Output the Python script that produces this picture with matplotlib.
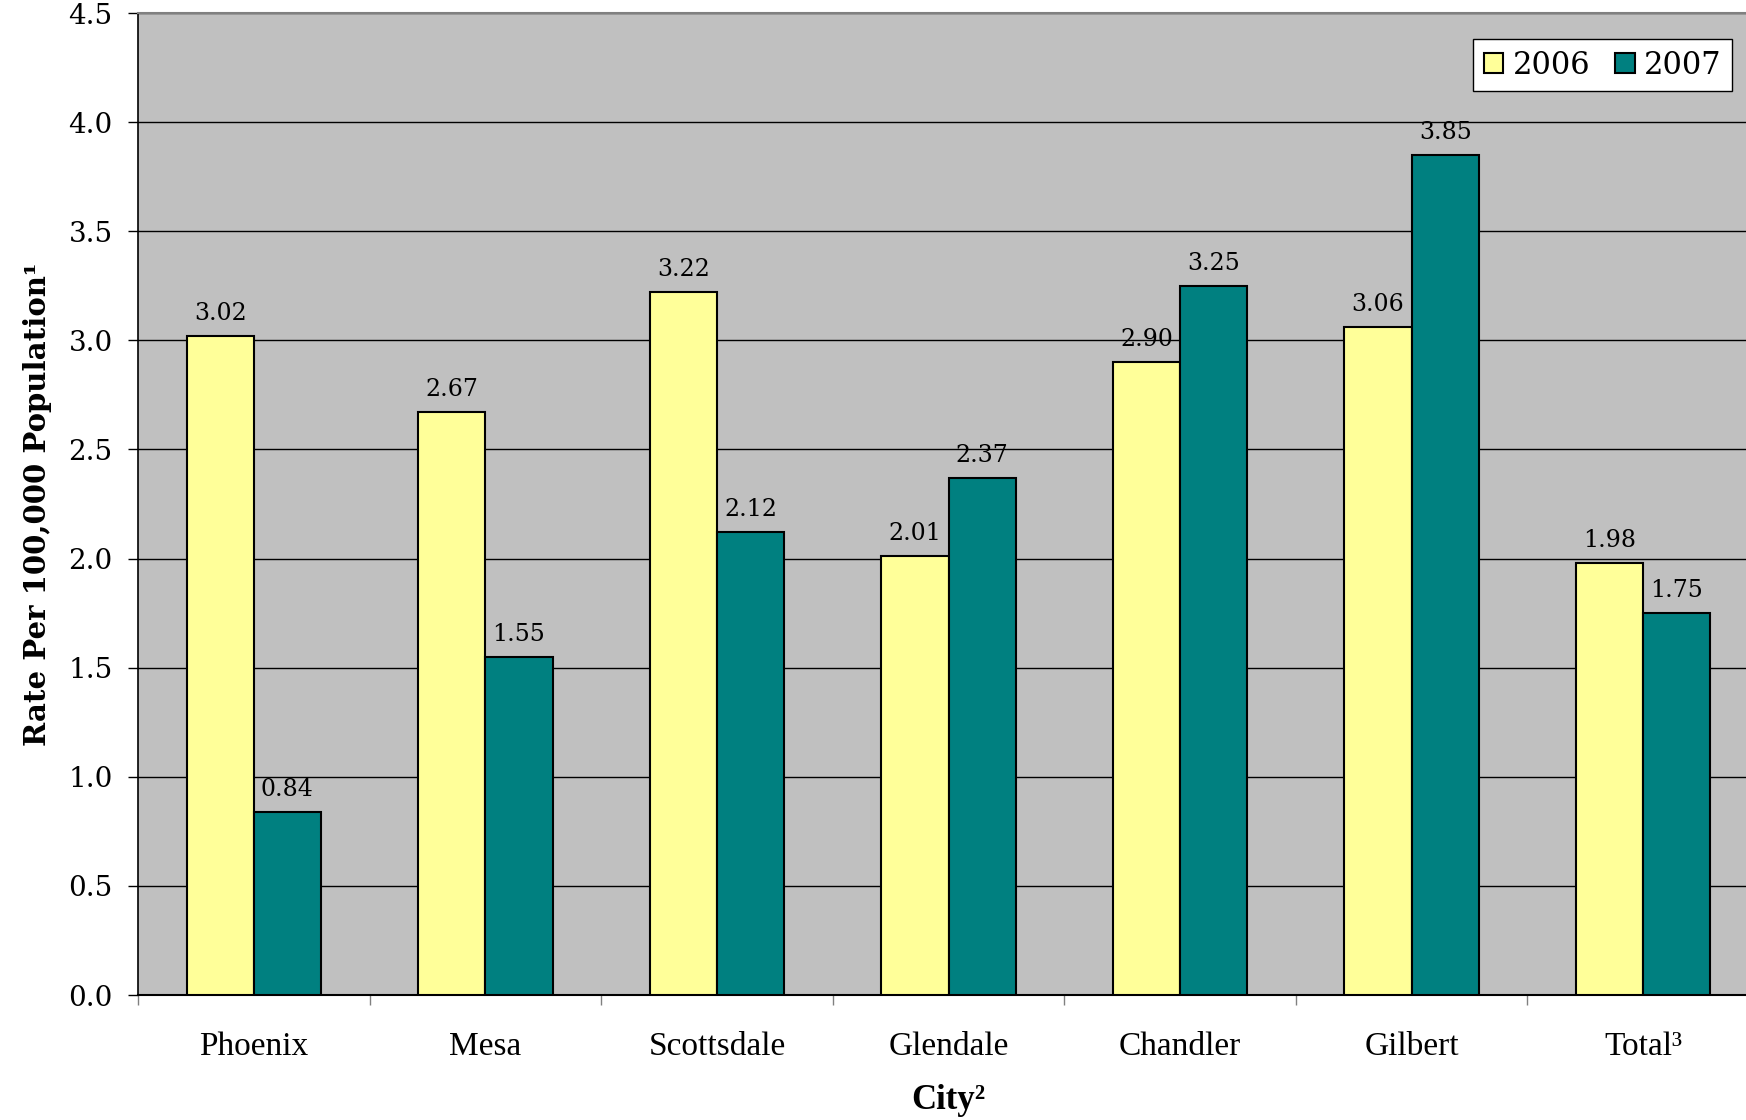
# Taxa por 100.000 habitantes, 2006 x 2007, por cidade
import numpy as np
import matplotlib.pyplot as plt

cidades = ['Phoenix', 'Mesa', 'Scottsdale', 'Glendale', 'Chandler', 'Gilbert', 'Total³']
taxa_2006 = [3.02, 2.67, 3.22, 2.01, 2.90, 3.06, 1.98]
taxa_2007 = [0.84, 1.55, 2.12, 2.37, 3.25, 3.85, 1.75]
anos = ['2006', '2007']
marcas_y = [0.0, 0.5, 1.0, 1.5, 2.0, 2.5, 3.0, 3.5, 4.0, 4.5]

fig = plt.figure(figsize=(17.46, 11.2), dpi=100)
ax = fig.add_axes([138 / 1746, 125 / 1120, 1621 / 1746, 982 / 1120])
ax.set_facecolor('#C0C0C0')

x = np.arange(len(cidades))
largura = 0.29
b1 = ax.bar(x - largura / 2, taxa_2006, largura, color='#FFFF99', edgecolor='black',
            linewidth=1.5, label=anos[0], zorder=3)
b2 = ax.bar(x + largura / 2, taxa_2007, largura, color='#008080', edgecolor='black',
            linewidth=1.5, label=anos[1], zorder=3)

for barras, valores in [(b1, taxa_2006), (b2, taxa_2007)]:
    for b, v in zip(barras, valores):
        ax.annotate(f'{v:.2f}', (b.get_x() + b.get_width() / 2, v), xytext=(0, 8),
                    textcoords='offset points', ha='center', va='bottom',
                    family='DejaVu Serif', fontsize=17, zorder=4)

ax.set_ylim(0, 4.5)
ax.set_xlim(-0.5, 6.5)
ax.set_yticks(marcas_y)
ax.set_yticklabels([f'{m:.1f}' for m in marcas_y], family='DejaVu Serif', fontsize=20)
ax.yaxis.grid(True, color='black', linewidth=1, zorder=0)
ax.tick_params(axis='y', length=7.2, width=1, pad=11)

ax.set_xticks(x)
ax.set_xticklabels(cidades, family='Liberation Serif', fontsize=24)
ax.set_xticks(np.arange(-0.5, 6.0, 1.0), minor=True)
ax.tick_params(axis='x', which='major', length=0, pad=26)
ax.tick_params(axis='x', which='minor', length=7.2, width=1, color='#808080')

for lado in ['top', 'right']:
    ax.spines[lado].set_color('#808080')
    ax.spines[lado].set_linewidth(1.5)
ax.spines['left'].set_linewidth(1.2)
ax.spines['bottom'].set_linewidth(1.5)

ax.set_ylabel('Rate Per 100,000 Population¹', family='DejaVu Serif', fontweight='bold',
              fontsize=21, labelpad=12)
ax.set_xlabel('City²', family='Liberation Serif', fontweight='bold', fontsize=25, labelpad=16)

leg = ax.legend(loc='upper right', bbox_to_anchor=((1732 - 138) / 1621, 1 - 26 / 982),
                borderaxespad=0, ncol=2, prop={'family': 'DejaVu Serif', 'size': 22},
                frameon=True, fancybox=False, edgecolor='black', framealpha=1,
                handlelength=0.65, handleheight=0.65, handletextpad=0.3,
                columnspacing=0.8, borderpad=0.35)
leg.get_frame().set_linewidth(1)

fig.savefig('out.png', dpi=100)
